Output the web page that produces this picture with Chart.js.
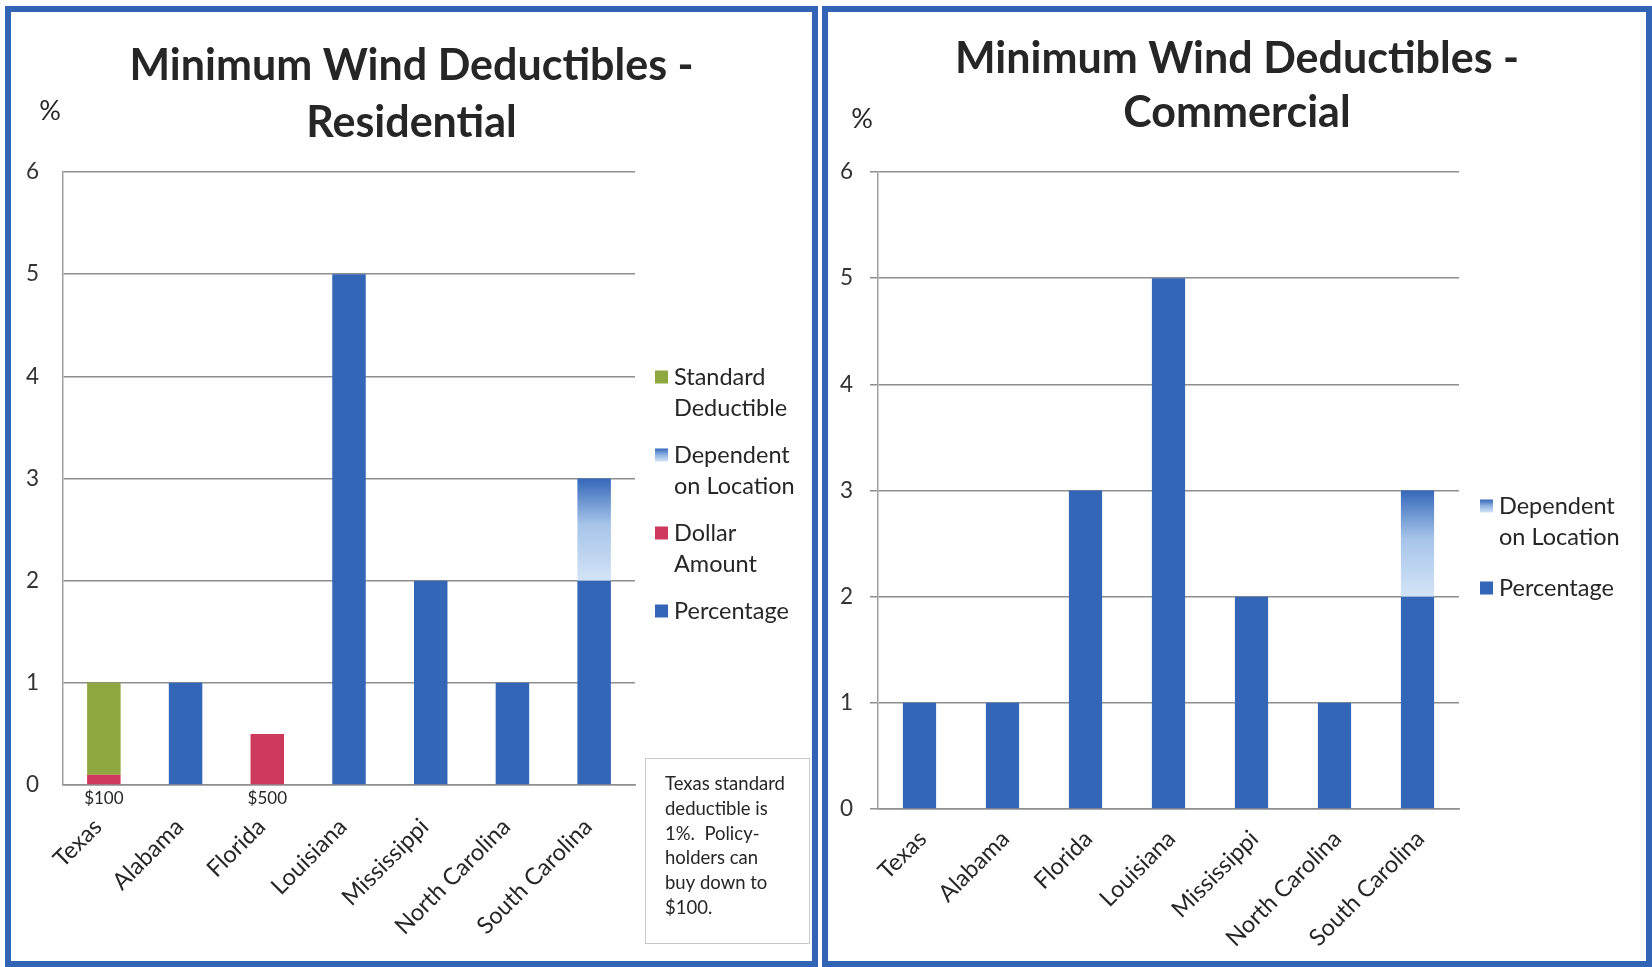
<!DOCTYPE html>
<html>
<head>
<meta charset="utf-8">
<title>Minimum Wind Deductibles</title>
<script src="https://cdn.jsdelivr.net/npm/chart.js@4/dist/chart.umd.min.js"></script>
<style>
  html, body { margin: 0; padding: 0; background: #fff; width: 1652px; height: 967px; overflow: hidden; }
  .panel { position: absolute; box-sizing: border-box; border: 6px solid #3164b4; background: #fff; }
  #panelRes { left: 5px; top: 6px; width: 813px; height: 961px; }
  #panelCom { left: 822px; top: 6px; width: 830px; height: 961px; }
  canvas { position: absolute; }
  #res { left: 11px; top: 12px; }
  #com { left: 828px; top: 12px; }
</style>
</head>
<body>
<div class="panel" id="panelRes"></div>
<div class="panel" id="panelCom"></div>
<canvas id="res" width="801" height="949"></canvas>
<canvas id="com" width="818" height="949"></canvas>
<script>
// ---- data ----
const states = ['Texas', 'Alabama', 'Florida', 'Louisiana', 'Mississippi', 'North Carolina', 'South Carolina'];
const yTicks = [0, 1, 2, 3, 4, 5, 6];

// Residential (percent of insured value)
const resPercentage = [null, 1, null, 5, 2, 1, 2];
const resDollarAmount = [100, null, 500, null, null, null, null];   // flat dollar deductibles
const resDependent = [null, null, null, null, null, null, 1];
const resStandard = [0.9, null, null, null, null, null, null];

// Commercial (percent of insured value)
const comPercentage = [1, 1, 3, 5, 2, 1, 2];
const comDependent = [null, null, null, null, null, null, 1];

const noteLines = ['Texas standard', 'deductible is', '1%.  Policy-', 'holders can', 'buy down to', '$100.'];

// dollar deductibles are plotted on the % axis at $1,000 per unit
const resDollarBars = resDollarAmount.map(v => v == null ? null : v / 1000);
const resDollarLabels = resDollarAmount.map(v => v == null ? '' : '$' + v);

// ---- styling ----
const FONT = 'Lato, "Open Sans", sans-serif';
const BLUE = '#3466b7';
const GREEN = '#8ea83f';
const RED = '#cd3a5d';
const GRID = '#8e8e8e';
const TEXT = '#262626';

Chart.defaults.font.family = FONT;
Chart.defaults.color = TEXT;

function dependentFill(context) {
  const chart = context.chart;
  if (!chart.chartArea || context.dataIndex == null) return '#7fa6dc';
  const i = context.dataIndex, di = context.datasetIndex;
  let base = 0;
  for (let j = 0; j < di; j++) base += chart.data.datasets[j].data[i] || 0;
  const top = base + (chart.data.datasets[di].data[i] || 0);
  const y = chart.scales.y;
  const g = chart.ctx.createLinearGradient(0, y.getPixelForValue(top), 0, y.getPixelForValue(base));
  g.addColorStop(0, '#3568ba');
  g.addColorStop(0.45, '#a6c4e9');
  g.addColorStop(1, '#d3e4f6');
  return g;
}

// unit label, wrapped legend, value labels under bars and side note
const panelExtras = {
  id: 'panelExtras',
  afterDraw(chart, args, o) {
    const ctx = chart.ctx;
    ctx.save();
    ctx.fillStyle = TEXT;
    ctx.textBaseline = 'middle';
    ctx.textAlign = 'center';
    ctx.font = '400 27px ' + FONT;
    ctx.fillText('%', o.unitX, o.unitY);

    // legend
    ctx.textAlign = 'left';
    ctx.font = '400 23.5px ' + FONT;
    o.legend.forEach((item, k) => {
      const y0 = o.legendY + k * o.legendStep;
      const s = 13;
      let fill = item.color;
      if (item.gradient) {
        const g = ctx.createLinearGradient(0, y0 - s / 2, 0, y0 + s / 2);
        g.addColorStop(0, '#3568ba');
        g.addColorStop(0.5, '#8fb3e2');
        g.addColorStop(1, '#d3e4f6');
        fill = g;
      }
      ctx.fillStyle = fill;
      ctx.fillRect(o.legendX, y0 - s / 2, s, s);
      ctx.fillStyle = TEXT;
      item.lines.forEach((t, n) => ctx.fillText(t, o.legendX + 19, y0 + n * 31.5));
    });

    // dollar labels under bars
    if (o.barLabels) {
      const x = chart.scales.x, yb = chart.scales.y.getPixelForValue(0);
      ctx.textAlign = 'center';
      ctx.font = '400 17px ' + FONT;
      o.barLabels.forEach((t, i) => { if (t) ctx.fillText(t, x.getPixelForValue(i), yb + 14); });
    }

    // note box
    if (o.note) {
      const n = o.note;
      ctx.strokeStyle = '#c9c9c9';
      ctx.lineWidth = 1;
      ctx.strokeRect(n.x + 0.5, n.y + 0.5, n.w, n.h);
      ctx.textAlign = 'left';
      ctx.font = '400 18.5px ' + FONT;
      n.lines.forEach((t, k) => ctx.fillText(t, n.x + 20, n.y + 26 + k * 24.8));
    }
    ctx.restore();
  }
};

function buildChart(id, cfg) {
  return new Chart(document.getElementById(id), {
    type: 'bar',
    data: { labels: states, datasets: cfg.datasets },
    plugins: [panelExtras],
    options: {
      responsive: false,
      animation: false,
      devicePixelRatio: 1,
      layout: { padding: 0 },
      datasets: { bar: { categoryPercentage: 1, barPercentage: cfg.barPct, borderWidth: 0 } },
      plugins: {
        legend: { display: false },
        tooltip: { enabled: false },
        title: {
          display: true,
          text: cfg.title,
          color: TEXT,
          font: { family: FONT, size: 43, weight: '700', lineHeight: cfg.titleLH },
          padding: cfg.titlePad
        },
        panelExtras: cfg.extras
      },
      scales: {
        x: {
          stacked: true,
          grid: { display: false, drawTicks: false },
          border: { display: true, color: GRID, width: 1.5 },
          ticks: { autoSkip: false, minRotation: 45, maxRotation: 45, padding: cfg.xPad,
                   labelOffset: cfg.xShift, font: { size: 23.5 }, color: TEXT },
          afterFit(s) { s.height = cfg.xHeight; }
        },
        y: {
          stacked: true,
          min: 0, max: 6,
          afterBuildTicks(s) { s.ticks = yTicks.map(v => ({ value: v })); },
          grid: { color: GRID, lineWidth: 1.5, drawTicks: cfg.yTickLen > 0, tickLength: cfg.yTickLen },
          border: { display: true, color: '#a0a0a0', width: 1.5 },
          ticks: { padding: cfg.yPad, font: { size: 22.5 }, color: '#333' },
          afterFit(s) { s.width = cfg.yWidth; }
        },
        // blank band on the right that holds the legend
        side: {
          type: 'linear',
          position: 'right',
          display: true,
          grid: { display: false, drawTicks: false },
          border: { display: false },
          ticks: { display: false },
          afterFit(s) { s.width = cfg.sideWidth; }
        }
      }
    }
  });
}

buildChart('res', {
  title: ['Minimum Wind Deductibles -', 'Residential'],
  titleLH: 57 / 43,
  titlePad: { top: 26, bottom: 20 },
  sideWidth: 177,
  barPct: 0.41,
  xPad: 28,
  xShift: -6,
  xHeight: 176,
  yWidth: 52,
  yTickLen: 0,
  yPad: 24,
  datasets: [
    { label: 'Percentage', data: resPercentage, backgroundColor: BLUE },
    { label: 'Dollar Amount', data: resDollarBars, backgroundColor: RED },
    { label: 'Dependent on Location', data: resDependent, backgroundColor: dependentFill },
    { label: 'Standard Deductible', data: resStandard, backgroundColor: GREEN }
  ],
  extras: {
    unitX: 39, unitY: 99,
    legendX: 644, legendY: 365, legendStep: 78,
    legend: [
      { lines: ['Standard', 'Deductible'], color: GREEN },
      { lines: ['Dependent', 'on Location'], gradient: true },
      { lines: ['Dollar', 'Amount'], color: RED },
      { lines: ['Percentage'], color: BLUE }
    ],
    barLabels: resDollarLabels,
    note: { x: 634, y: 746, w: 164, h: 185, lines: noteLines }
  }
});

buildChart('com', {
  title: ['Minimum Wind Deductibles -', 'Commercial'],
  titleLH: 54 / 43,
  titlePad: { top: 20, bottom: 32 },
  sideWidth: 187,
  barPct: 0.4,
  xPad: 16,
  xShift: 3,
  xHeight: 152,
  yWidth: 50,
  yTickLen: 8,
  yPad: 17,
  datasets: [
    { label: 'Percentage', data: comPercentage, backgroundColor: BLUE },
    { label: 'Dependent on Location', data: comDependent, backgroundColor: dependentFill }
  ],
  extras: {
    unitX: 34, unitY: 107,
    legendX: 652, legendY: 494, legendStep: 82,
    legend: [
      { lines: ['Dependent', 'on Location'], gradient: true },
      { lines: ['Percentage'], color: BLUE }
    ]
  }
});
</script>
</body>
</html>
